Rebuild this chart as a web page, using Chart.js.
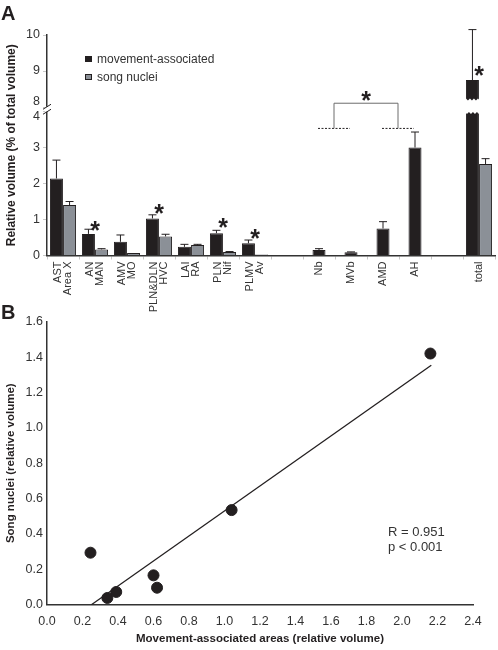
<!DOCTYPE html>
<html>
<head>
<meta charset="utf-8">
<script src="https://cdn.jsdelivr.net/npm/chart.js@4.4.0/dist/chart.umd.min.js"></script>
<style>
    body { margin: 0; background: #fff; font-family: "Liberation Sans", Arial, sans-serif; color: #231f20; }
    #wrap { position: relative; width: 498px; height: 650px; overflow: hidden; }
    canvas { position: absolute; left: 0; }
    #chartA { top: 0; }
    #chartB { top: 300px; }
    .panel { position: absolute; left: 1px; font-weight: bold; font-size: 20px; line-height: 20px; }
    .swatch { position: absolute; left: 85px; width: 5px; height: 4px; border: 1px solid #231f20; }
    .legendText { position: absolute; left: 97px; font-size: 12px; line-height: 14px; color: #333; white-space: nowrap; }
    #stats { position: absolute; left: 388px; top: 524px; font-size: 13px; line-height: 15px; color: #333; white-space: nowrap; }
</style>
</head>
<body>
<div id="wrap">
    <canvas id="chartA" width="498" height="320"></canvas>
    <canvas id="chartB" width="498" height="350"></canvas>
    <div class="panel" style="top:3px">A</div>
    <div class="panel" style="top:302px">B</div>
    <div class="swatch" style="top:56px; background:#231f20"></div>
    <div class="legendText" style="top:52px">movement-associated</div>
    <div class="swatch" style="top:74px; background:#8b9097"></div>
    <div class="legendText" style="top:70px">song nuclei</div>
    <div id="stats">R = 0.951<br>p &lt; 0.001</div>
</div>
<script>
// panel A: relative volume (% of total volume)
const categories = [['AST', 'Area X'], ['AN', 'MAN'], ['AMV', 'MO'], ['PLN&DLN', 'HVC'], ['LAI', 'RA'], ['PLN', 'Nif'], ['PLMV', 'Av'], '', 'Nb', 'MVb', 'AMD', 'AH', '', 'total'];
const movementValues = [2.14, 0.60, 0.38, 1.03, 0.24, 0.62, 0.34, null, 0.15, 0.09, 0.75, 3.00, null, 8.75];
const movementErrors = [0.51, 0.13, 0.19, 0.10, 0.07, 0.08, 0.09, null, 0.04, 0.01, 0.19, 0.43, null, 1.40];
const songValues = [1.40, 0.17, 0.07, 0.53, 0.29, 0.10, 0.03, null, null, null, null, null, null, 2.54];
const songErrors = [0.10, 0.02, 0.00, 0.06, 0.02, 0.01, 0.00, null, null, null, null, null, null, 0.15];
const yTickValues = [0, 1, 2, 3, 4, 8, 9, 10];
const starCategories = [1, 3, 5, 6, 13];
const starLevels = [0.82, 1.29, 0.91, 0.60, 9.0];
const bracketGroups = [[8, 9], [10, 11]];
const bracketBaseLevel = 3.53;
const bracketTopLevel = 4.23;   // axis units, sits in the break
const bracketStarLevel = 4.43;

// panel B: song nuclei vs movement-associated areas
const movementAreaX = [2.16, 0.60, 0.39, 1.04, 0.245, 0.62, 0.34];
const songNucleiY = [1.42, 0.166, 0.072, 0.535, 0.294, 0.096, 0.038];
const fitLineX = [0.25, 2.165];
const fitLineY = [0, 1.354];

const BREAK_LOW = 4;
const BREAK_HIGH = 8;
const BREAK_GAP = 0.125;

function toAxis(v) {
    if (v === null || v === undefined) return null;
    return v <= BREAK_LOW ? v : v - BREAK_HIGH + BREAK_LOW + BREAK_GAP;
}

Chart.defaults.font.family = '"Liberation Sans", Arial, sans-serif';
Chart.defaults.color = '#333';

const INK = '#231f20';
const GREY = '#8b9097';

// two-line labels sit either side of the tick, single ones on it
const LABEL_LINE = 10;
const axisLabels = categories.map(c => Array.isArray(c) ? c : ['', c]);

function drawStar(ctx, x, y) {
    ctx.save();
    ctx.fillStyle = INK;
    ctx.font = 'bold 25px "Liberation Sans", Arial, sans-serif';
    ctx.textAlign = 'center';
    ctx.textBaseline = 'alphabetic';
    ctx.fillText('*', x, y + 13);
    ctx.restore();
}

const errorBarPlugin = {
    id: 'errorBars',
    afterDatasetsDraw(chart) {
        const ctx = chart.ctx;
        const yScale = chart.scales.y;
        const sources = [[movementValues, movementErrors], [songValues, songErrors]];
        sources.forEach(([values, errors], di) => {
            const meta = chart.getDatasetMeta(di);
            meta.data.forEach((bar, i) => {
                if (values[i] === null || !errors[i]) return;
                const top = yScale.getPixelForValue(toAxis(values[i] + errors[i]));
                ctx.save();
                ctx.strokeStyle = INK;
                ctx.lineWidth = 1;
                ctx.beginPath();
                ctx.moveTo(bar.x, bar.y);
                ctx.lineTo(bar.x, top);
                ctx.moveTo(bar.x - 4, top);
                ctx.lineTo(bar.x + 4, top);
                ctx.stroke();
                ctx.restore();
            });
        });
    }
};

const breakPlugin = {
    id: 'axisBreak',
    afterDraw(chart) {
        const ctx = chart.ctx;
        const yScale = chart.scales.y;
        const xScale = chart.scales.x;

        // wavy cut through the tall "total" bar
        const bar = chart.getDatasetMeta(0).data[13];
        const lowY = yScale.getPixelForValue(3.97);
        const highY = yScale.getPixelForValue(4.32);
        const left = bar.x - bar.width / 2 - 1;
        const right = bar.x + bar.width / 2 + 1;
        ctx.save();
        ctx.fillStyle = '#fff';
        ctx.beginPath();
        ctx.moveTo(left, lowY);
        for (let x = left, k = 0; x <= right; x += 2, k++) {
            ctx.lineTo(x, lowY + (k % 2 ? 1.5 : -0.5));
        }
        ctx.lineTo(right, lowY);
        for (let x = right, k = 0; x >= left; x -= 2, k++) {
            ctx.lineTo(x, highY + (k % 2 ? -1.5 : 0.5));
        }
        ctx.closePath();
        ctx.fill();

        // break marks on the y axis
        const axisX = xScale.left;
        const mid = yScale.getPixelForValue(BREAK_LOW + BREAK_GAP / 2);
        ctx.fillRect(axisX - 2, mid - 2.5, 4, 5);
        ctx.strokeStyle = INK;
        ctx.lineWidth = 1;
        ctx.beginPath();
        [-2.5, 2.5].forEach(off => {
            ctx.moveTo(axisX - 4, mid + off + 2.5);
            ctx.lineTo(axisX + 4, mid + off - 2.5);
        });
        ctx.stroke();

        // bracket comparing Nb+MVb with AMD+AH
        const baseY = yScale.getPixelForValue(bracketBaseLevel);
        const topY = yScale.getPixelForValue(bracketTopLevel);
        const mids = bracketGroups.map(([a, b]) => {
            const xa = xScale.getPixelForValue(a) - 1;
            const xb = xScale.getPixelForValue(b) - 1;
            ctx.save();
            ctx.strokeStyle = INK;
            ctx.setLineDash([2, 1.5]);
            ctx.beginPath();
            ctx.moveTo(xa, baseY);
            ctx.lineTo(xb, baseY);
            ctx.stroke();
            ctx.restore();
            return (xa + xb) / 2;
        });
        ctx.strokeStyle = '#6d6d6d';
        ctx.beginPath();
        ctx.moveTo(mids[0], baseY);
        ctx.lineTo(mids[0], topY);
        ctx.lineTo(mids[1], topY);
        ctx.lineTo(mids[1], baseY);
        ctx.stroke();
        ctx.restore();
        drawStar(ctx, (mids[0] + mids[1]) / 2, yScale.getPixelForValue(bracketStarLevel));

        starCategories.forEach((c, i) => {
            drawStar(ctx, xScale.getPixelForValue(c), yScale.getPixelForValue(toAxis(starLevels[i])));
        });
    }
};

new Chart(document.getElementById('chartA'), {
    type: 'bar',
    data: {
        labels: axisLabels,
        datasets: [{
            label: 'movement-associated',
            data: movementValues.map(toAxis),
            backgroundColor: INK,
            borderColor: INK,
            borderWidth: 1
        }, {
            label: 'song nuclei',
            data: songValues.map(toAxis),
            backgroundColor: GREY,
            borderColor: INK,
            borderWidth: 1
        }]
    },
    options: {
        responsive: false,
        animation: false,
        events: [],
        skipNull: true,
        categoryPercentage: 0.82,
        barPercentage: 1,
        maxBarThickness: 13,
        layout: { padding: { top: 35, right: 3 } },
        plugins: { legend: { display: false }, tooltip: { enabled: false } },
        scales: {
            x: {
                grid: { display: true, drawOnChartArea: false, drawTicks: true, tickLength: 4, color: '#c8c8c8' },
                border: { display: true, color: '#333', width: 1.5 },
                ticks: {
                    autoSkip: false, minRotation: 90, maxRotation: 90, padding: 2,
                    labelOffset: -LABEL_LINE / 2,
                    color: '#333',
                    font: ctx => ({
                        size: 11,
                        lineHeight: (Array.isArray(categories[ctx.index]) ? LABEL_LINE : LABEL_LINE / 2) + 'px'
                    })
                },
                afterFit(scale) { scale.height = 64.5; }
            },
            y: {
                min: 0,
                max: toAxis(10),
                afterBuildTicks(scale) {
                    scale.ticks = yTickValues.map(v => ({ value: toAxis(v) }));
                },
                grid: { display: true, drawOnChartArea: false, drawTicks: true, tickLength: 4, color: '#c8c8c8' },
                border: { display: true, color: '#333', width: 1.5 },
                ticks: {
                    autoSkip: false, padding: 3, color: '#333',
                    font: { size: 12.5, lineHeight: 0.8 },
                    callback(value, index) {
                        const label = String(yTickValues[index]);
                        if (yTickValues[index] === BREAK_LOW) return ['', label];
                        if (yTickValues[index] === BREAK_HIGH) return [label, ''];
                        return label;
                    }
                },
                title: {
                    display: true, text: 'Relative volume (% of total volume)', color: INK,
                    font: { size: 12, weight: 'bold' }, padding: { top: 4, bottom: 4 }
                },
                afterFit(scale) { scale.width = 47; }
            }
        }
    },
    plugins: [errorBarPlugin, breakPlugin]
});

new Chart(document.getElementById('chartB'), {
    type: 'scatter',
    data: {
        datasets: [{
            type: 'line',
            showLine: true,
            data: fitLineX.map((x, i) => ({ x: x, y: fitLineY[i] })),
            borderColor: INK,
            borderWidth: 1.3,
            pointRadius: 0,
            fill: false
        }, {
            data: movementAreaX.map((x, i) => ({ x: x, y: songNucleiY[i] })),
            backgroundColor: INK,
            borderColor: INK,
            pointRadius: 5.5
        }]
    },
    options: {
        responsive: false,
        animation: false,
        events: [],
        layout: { padding: { top: 21.7, right: 25 } },
        plugins: { legend: { display: false }, tooltip: { enabled: false } },
        scales: {
            x: {
                type: 'linear', min: 0, max: 2.4,
                grid: { display: true, drawOnChartArea: false, drawTicks: false },
                border: { display: true, color: '#333', width: 1.5 },
                ticks: { stepSize: 0.2, padding: 9, color: '#333', font: { size: 12.5 }, callback: v => v.toFixed(1) },
                title: {
                    display: true, text: 'Movement-associated areas (relative volume)', color: INK,
                    font: { size: 11.5, weight: 'bold' }, padding: { top: 4, bottom: 4 }
                },
                afterFit(scale) { scale.height = 45.3; }
            },
            y: {
                type: 'linear', min: 0, max: 1.6,
                grid: { display: true, drawOnChartArea: false, drawTicks: false },
                border: { display: true, color: '#333', width: 1.5 },
                ticks: { stepSize: 0.2, padding: 4, color: '#333', font: { size: 12.5 }, callback: v => v.toFixed(1) },
                title: {
                    display: true, text: 'Song nuclei (relative volume)', color: INK,
                    font: { size: 11.5, weight: 'bold' }, padding: { top: 4, bottom: 4 }
                },
                afterFit(scale) { scale.width = 47; }
            }
        }
    }
});
</script>
</body>
</html>
